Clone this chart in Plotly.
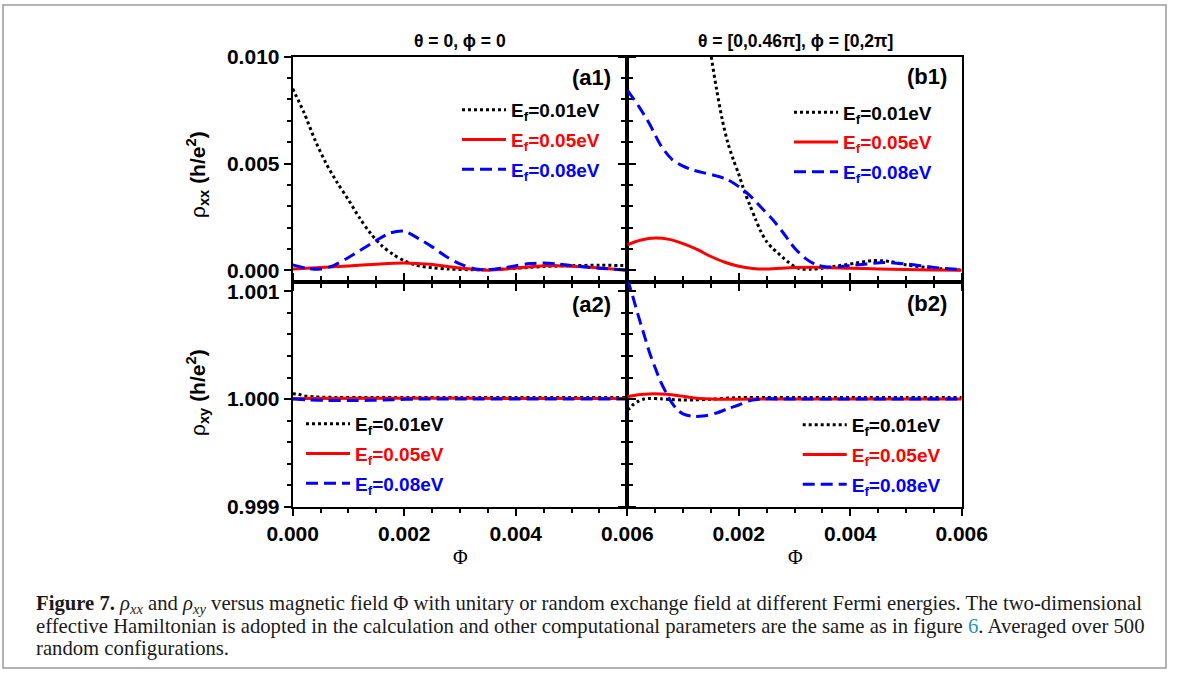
import plotly.graph_objects as go

# ---------------- data ----------------
# (a1) rho_xx, theta=0, phi=0
a1_k_x = [0, 0.0002, 0.0004, 0.0006, 0.0008, 0.001, 0.0012, 0.0014, 0.0016, 0.0018, 0.002,
          0.0022, 0.0025, 0.0028, 0.0032, 0.0036, 0.004, 0.0045, 0.005, 0.0055, 0.006]
a1_k_y = [0.0085, 0.0074, 0.0061, 0.0050, 0.0041, 0.0033, 0.00245, 0.00172, 0.00115, 0.00075, 0.00045,
          0.00025, 0.00012, 0.00006, 0.00003, 0.00004, 0.0001, 0.00018, 0.00022, 0.00024, 0.00022]
a1_r_x = [0, 0.0005, 0.001, 0.0015, 0.002, 0.0025, 0.003, 0.0035, 0.004, 0.0045, 0.005, 0.0055, 0.006]
a1_r_y = [0.00007, 0.00013, 0.00021, 0.00029, 0.00034, 0.00027, 0.00011, 0.00001, 0.00011, 0.00022,
          0.00019, 0.00011, 0.00001]
a1_b_x = [0, 0.00025, 0.0005, 0.00075, 0.001, 0.00125, 0.0015, 0.00175, 0.002, 0.00225, 0.0025, 0.00275,
          0.003, 0.00325, 0.0035, 0.00375, 0.004, 0.00425, 0.0045, 0.00475, 0.005, 0.0055, 0.006]
a1_b_y = [0.00026, 0.0001, 0.00006, 0.00025, 0.0006, 0.001, 0.0014, 0.00175, 0.00183, 0.0015, 0.0011,
          0.00065, 0.0003, 0.00008, 0.00003, 0.0001, 0.00022, 0.00032, 0.00034, 0.0003, 0.00022, 0.0001, 0.00002]

# (b1) rho_xx, random exchange field
b1_k_x = [0.0013, 0.0014, 0.0015, 0.0016, 0.0017, 0.0018, 0.0019, 0.002, 0.0021, 0.0022, 0.0023, 0.0024,
          0.0025, 0.0026, 0.0027, 0.0028, 0.0029, 0.003, 0.0031, 0.0033, 0.0035, 0.0038, 0.0041, 0.0044,
          0.0047, 0.005, 0.0055, 0.006]
b1_k_y = [0.0136, 0.0118, 0.0101, 0.0085, 0.0071, 0.0060, 0.0052, 0.0045, 0.0037, 0.00305, 0.0024, 0.0018,
          0.00135, 0.00105, 0.00082, 0.00058, 0.00036, 0.00018, 0.00007, 0.00005, 0.0001, 0.00022, 0.00034,
          0.00046, 0.00042, 0.00026, 0.0001, 0.00002]
b1_r_x = [0, 0.00025, 0.0005, 0.00075, 0.001, 0.00125, 0.0015, 0.00175, 0.002, 0.00225, 0.0025, 0.003,
          0.0035, 0.004, 0.0045, 0.005, 0.0055, 0.006]
b1_r_y = [0.0012, 0.00142, 0.00151, 0.00145, 0.00125, 0.00098, 0.00065, 0.00038, 0.00019, 0.00009, 0.00006,
          0.00013, 0.00014, 0.0001, 0.00007, 0.00004, 0.00002, 0.00001]
b1_b_x = [0, 0.0002, 0.0004, 0.0006, 0.0008, 0.001, 0.0012, 0.0014, 0.0016, 0.0018, 0.002, 0.0022, 0.0024,
          0.0026, 0.0028, 0.003, 0.0032, 0.0034, 0.0036, 0.0038, 0.004, 0.0043, 0.0046, 0.005, 0.0055, 0.006]
b1_b_y = [0.00844, 0.0077, 0.00685, 0.00585, 0.0052, 0.00488, 0.00468, 0.00455, 0.00442, 0.00425, 0.00392,
          0.0035, 0.00295, 0.0024, 0.00175, 0.00105, 0.00055, 0.00025, 0.00016, 0.00018, 0.00023, 0.0003,
          0.00037, 0.0003, 0.00014, 0.00003]

# (a2) rho_xy, theta=0, phi=0
a2_k_x = [0, 0.0001, 0.0002, 0.0004, 0.0008, 0.0015, 0.003, 0.0045, 0.006]
a2_k_y = [1.00005, 1.000045, 1.00003, 1.00002, 1.000015, 1.000015, 1.000015, 1.000015, 1.000015]
a2_r_x = [0, 0.002, 0.004, 0.006]
a2_r_y = [1.000005, 1.000008, 1.000006, 1.000006]
a2_b_x = [0, 0.0003, 0.0006, 0.001, 0.0014, 0.0018, 0.0022, 0.003, 0.004, 0.005, 0.006]
a2_b_y = [1.0, 0.999992, 0.999988, 0.999986, 0.999988, 0.999994, 0.999999, 1.0, 1.0, 1.0, 1.0]

# (b2) rho_xy, random exchange field
b2_k_x = [0, 0.00005, 0.0001, 0.0002, 0.0003, 0.0004, 0.0006, 0.0008, 0.001, 0.0012, 0.0015, 0.002,
          0.0025, 0.003, 0.004, 0.005, 0.006]
b2_k_y = [0.999905, 0.999915, 0.999945, 0.99998, 1.0, 1.000006, 1.000002, 0.999995, 0.999991, 0.999992,
          0.999998, 1.000014, 1.000014, 1.000014, 1.000014, 1.000014, 1.000014]
b2_r_x = [0, 0.0002, 0.0004, 0.0006, 0.0008, 0.001, 0.0012, 0.0014, 0.0016, 0.002, 0.0025, 0.003, 0.004,
          0.005, 0.006]
b2_r_y = [1.000022, 1.00004, 1.000048, 1.000047, 1.00004, 1.000025, 1.00001, 1.000002, 0.999998, 0.999999,
          1.0, 1.0, 1.0, 1.0, 1.0]
b2_b_x = [0, 0.0001, 0.0002, 0.0003, 0.0004, 0.0005, 0.0006, 0.0007, 0.0008, 0.0009, 0.001, 0.0012, 0.0014,
          0.0016, 0.0018, 0.002, 0.0022, 0.0024, 0.003, 0.004, 0.005, 0.006]
b2_b_y = [1.00112, 1.00095, 1.00077, 1.0006, 1.00043, 1.00029, 1.00016, 1.000055, 0.999965, 0.9999,
          0.999862, 0.999838, 0.999845, 0.99987, 0.99991, 0.999945, 0.999985, 1.0, 1.0, 1.0, 1.0, 1.0]

series_names = ["E<sub>f</sub>=0.01eV", "E<sub>f</sub>=0.05eV", "E<sub>f</sub>=0.08eV"]
series_colors = ["#000000", "#ff0000", "#0000ff"]
series_dash = ["3px,3px", "solid", "12px,6px"]

panel_titles = ["θ = 0, ϕ = 0", "θ = [0,0.46π], ϕ = [0,2π]"]
panel_labels = ["(a1)", "(b1)", "(a2)", "(b2)"]

x_ticks_left = [0, 0.002, 0.004, 0.006]
x_ticks_right = [0.002, 0.004, 0.006]
yxx_ticks = [0.0, 0.005, 0.010]
yxy_ticks = [0.999, 1.000, 1.001]

caption_lines = [
    "<b>Figure 7.</b> <i>ρ<sub>xx</sub></i> and <i>ρ<sub>xy</sub></i> versus magnetic field Φ with unitary "
    "or random exchange field at different Fermi energies. The two-dimensional",
    "effective Hamiltonian is adopted in the calculation and other computational parameters are the same "
    "as in figure <span style='color:#2a8fd0'>6</span>. Averaged over 500",
    "random configurations.",
]

# ---------------- layout geometry (window pixel coords) ----------------
W, H = 1179, 682
OFF = 0
def px(x):
    return (x - OFF) / W
def py(y):
    return 1 - (y - OFF) / H

xl = [px(292.7), px(627.3)]
xr = [px(627.3), px(961.7)]
yt = [py(281.7), py(56.7)]
yb = [py(506.7), py(281.7)]

FONT = "Liberation Sans"

fig = go.Figure()

panels = [
    ("x", "y", [(a1_k_x, a1_k_y), (a1_r_x, a1_r_y), (a1_b_x, a1_b_y)], "legend"),
    ("x2", "y2", [(b1_k_x, b1_k_y), (b1_r_x, b1_r_y), (b1_b_x, b1_b_y)], "legend2"),
    ("x3", "y3", [(a2_k_x, a2_k_y), (a2_r_x, a2_r_y), (a2_b_x, a2_b_y)], "legend3"),
    ("x4", "y4", [(b2_k_x, b2_k_y), (b2_r_x, b2_r_y), (b2_b_x, b2_b_y)], "legend4"),
]
for pi, (xa, ya, data, leg) in enumerate(panels):
    for si, (xs, ys) in enumerate(data):
        fig.add_trace(go.Scatter(
            x=xs, y=ys, xaxis=xa, yaxis=ya, mode="lines",
            line=dict(color=series_colors[si], width=3, dash=series_dash[si], shape="spline", smoothing=0.8),
            name="<b><span style='color:%s'>%s</span></b>" % (series_colors[si], series_names[si]),
            legend=leg, legendgroup="g%d_%d" % (pi, si), showlegend=True,
        ))

tickfont = dict(family=FONT, size=21, color="black", weight="bold")
common_axis = dict(showline=True, linewidth=2, linecolor="black", ticks="outside", ticklen=7, tickwidth=2,
                   tickcolor="black", showgrid=False, zeroline=False, tickfont=tickfont, tickformat=".3f")

def xaxis(domain, anchor, tickvals, labels, mirror):
    return dict(common_axis, domain=domain, anchor=anchor, range=[0, 0.006], tickmode="array",
                tickvals=tickvals, showticklabels=labels, mirror=mirror,
                minor=dict(ticks="outside", ticklen=4, tickwidth=2, tickcolor="black", dtick=0.0005, tick0=0))

def yaxis(domain, anchor, rng, tickvals, minor_dtick, labels, mirror):
    return dict(common_axis, domain=domain, anchor=anchor, range=rng, tickmode="array",
                tickvals=tickvals, showticklabels=labels, mirror=mirror,
                minor=dict(ticks="outside", ticklen=4, tickwidth=2, tickcolor="black", dtick=minor_dtick, tick0=0))

yxx_range = [-0.00053, 0.010]
yxy_range = [0.999, 1.00109]

fig.update_layout(
    xaxis=xaxis(xl, "y", x_ticks_left, False, True),
    xaxis2=xaxis(xr, "y2", x_ticks_right, False, True),
    xaxis3=xaxis(xl, "y3", x_ticks_left, True, "ticks"),
    xaxis4=xaxis(xr, "y4", x_ticks_right, True, "ticks"),
    yaxis=yaxis(yt, "x", yxx_range, yxx_ticks, 0.001, True, "ticks"),
    yaxis2=yaxis(yt, "x2", yxx_range, yxx_ticks, 0.001, False, True),
    yaxis3=yaxis(yb, "x3", yxy_range, yxy_ticks, 0.0002, True, "ticks"),
    yaxis4=yaxis(yb, "x4", yxy_range, yxy_ticks, 0.0002, False, True),
)

legend_common = dict(xanchor="left", yanchor="top", bgcolor="rgba(0,0,0,0)", borderwidth=0,
                     font=dict(family=FONT, size=19, color="black"), tracegroupgap=2, itemwidth=44,
                     itemclick=False, itemdoubleclick=False)
fig.update_layout(
    legend=dict(legend_common, x=px(457), y=py(91)),
    legend2=dict(legend_common, x=px(789), y=py(93.5)),
    legend3=dict(legend_common, x=px(301), y=py(405)),
    legend4=dict(legend_common, x=px(797.7), y=py(406)),
)

def note(text, x, y, size, family=FONT, angle=0, xanchor="center", color="black"):
    return dict(text=text, x=px(x), y=py(y), xref="paper", yref="paper", showarrow=False,
                xanchor=xanchor, yanchor="middle", textangle=angle,
                font=dict(family=family, size=size, color=color))

ann = []
ann.append(note("<b>%s</b>" % panel_titles[0], 460, 41, 17.5))
ann.append(note("<b>%s</b>" % panel_titles[1], 795, 41, 17.5))
for lab, (lx, ly) in zip(panel_labels, [(591, 77), (927, 76), (591, 304), (927, 303)]):
    ann.append(note("<b>%s</b>" % lab, lx, ly, 22))
ann.append(note("ρ<b><sub>xx</sub> (h/e<sup>2</sup>)</b>", 197, 175, 21, angle=-90))
ann.append(note("ρ<b><sub>xy</sub> (h/e<sup>2</sup>)</b>", 197, 393, 21, angle=-90))
for cx in (460, 795):
    ann.append(note("Φ", cx, 557, 20, family="Liberation Serif"))
for i, line in enumerate(caption_lines):
    ann.append(note(line, 34, 604 + 22 * i, 20.7, family="Liberation Serif", xanchor="left",
                    color="#1a1a1a"))

fig.update_layout(
    annotations=ann,
    shapes=[dict(type="rect", xref="paper", yref="paper", x0=px(3), x1=px(1166), y0=py(668), y1=py(5),
                 line=dict(color="#9a9a9a", width=1.5), fillcolor="rgba(0,0,0,0)", layer="below")],
    width=W, height=H, margin=dict(l=0, r=0, t=0, b=0, pad=0, autoexpand=False),
    paper_bgcolor="white", plot_bgcolor="white", showlegend=True,
)

fig.write_html("out.html", config={"displayModeBar": False},
               post_script="document.body.style.margin='0px';")
